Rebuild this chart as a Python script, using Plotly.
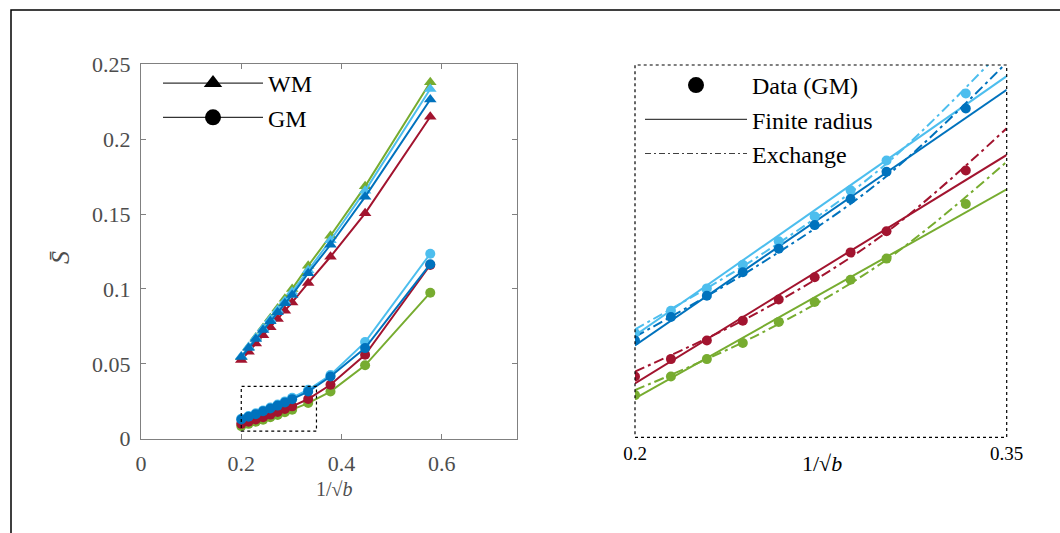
import plotly.graph_objects as go

# ---------------------------------------------------------------- data
# abscissa 1/sqrt(b)
inv_sqrt_b = [0.2, 0.2145, 0.229, 0.2435, 0.258, 0.2725, 0.287, 0.3015,
              0.3335, 0.378, 0.447, 0.577]

series_names = ["green", "red", "lightblue", "blue"]
series_colors = {"green": "#77AC30", "red": "#A2142F",
                 "lightblue": "#4DBEEE", "blue": "#0072BD"}

# mean signal S-bar, white matter (triangles)
wm_green = [0.0545, 0.0610, 0.0675, 0.0740, 0.0805, 0.0870, 0.0935, 0.1000,
            0.1155, 0.1355, 0.1685, 0.2380]
wm_red = [0.0525, 0.0580, 0.0635, 0.0690, 0.0745, 0.0800, 0.0855, 0.0910,
          0.1040, 0.1215, 0.1505, 0.2150]
wm_lightblue = [0.0550, 0.0612, 0.0674, 0.0736, 0.0798, 0.0860, 0.0920, 0.0980,
                0.1125, 0.1325, 0.1655, 0.2335]
wm_blue = [0.0545, 0.0605, 0.0665, 0.0725, 0.0785, 0.0845, 0.0905, 0.0960,
           0.1105, 0.1295, 0.1615, 0.2265]

# mean signal S-bar, grey matter (circles)
gm_green = [0.0084, 0.0099, 0.0113, 0.0126, 0.0143, 0.0159, 0.0177, 0.0194,
            0.0238, 0.0315, 0.0490, 0.0975]
gm_red = [0.0099, 0.0113, 0.0128, 0.0144, 0.0161, 0.0179, 0.0199, 0.0216,
          0.0265, 0.0360, 0.0560, 0.1160]
gm_lightblue = [0.0134, 0.0152, 0.0170, 0.0189, 0.0208, 0.0228, 0.0249, 0.0273,
                0.0327, 0.0425, 0.0645, 0.1235]
gm_blue = [0.0128, 0.0147, 0.0164, 0.0183, 0.0202, 0.0221, 0.0242, 0.0264,
           0.0315, 0.0415, 0.0605, 0.1165]

# model curves for GM, evaluated on the zoomed interval
fit_x = [0.2, 0.35]
finite_green = [0.00814, 0.02498]
finite_red = [0.00935, 0.02775]
finite_lightblue = [0.0132, 0.0341]
finite_blue = [0.0124, 0.0330]

exch_x = [0.2, 0.25, 0.3, 0.35]
exch_green = [0.0088, 0.0133, 0.0191, 0.0272]
exch_red = [0.0103, 0.0151, 0.0213, 0.0299]
exch_lightblue = [0.0137, 0.0196, 0.0268, 0.0366]
exch_blue = [0.0131, 0.0189, 0.0258, 0.0352]

# zoom window shown on the right
ZOOM_X = [0.2, 0.35]
ZOOM_Y = [0.005, 0.035]

x_ticks_left = [0, 0.2, 0.4, 0.6]
x_ticktext_left = ["0", "0.2", "0.4", "0.6"]
y_ticks_left = [0, 0.05, 0.1, 0.15, 0.2, 0.25]
y_ticktext_left = ["0", "0.05", "0.1", "0.15", "0.2", "0.25"]

wm = {"green": wm_green, "red": wm_red, "lightblue": wm_lightblue, "blue": wm_blue}
gm = {"green": gm_green, "red": gm_red, "lightblue": gm_lightblue, "blue": gm_blue}
finite = {"green": finite_green, "red": finite_red,
          "lightblue": finite_lightblue, "blue": finite_blue}
exch = {"green": exch_green, "red": exch_red,
        "lightblue": exch_lightblue, "blue": exch_blue}

# ---------------------------------------------------------------- figure
W, H = 1060, 533
SERIF = "Liberation Serif, Times New Roman, serif"
AXIS_GREY = "#808080"
TEXT_GREY = "#4d4d4d"
DASHDOT = "10px,4px,3px,4px"

fig = go.Figure()

# left panel: WM triangles and GM circles
for name in series_names:
    c = series_colors[name]
    fig.add_trace(go.Scatter(
        x=inv_sqrt_b, y=wm[name], mode="lines+markers", showlegend=False,
        line=dict(color=c, width=2),
        marker=dict(symbol="triangle-up", size=11, color=c),
        xaxis="x", yaxis="y"))
for name in series_names:
    c = series_colors[name]
    fig.add_trace(go.Scatter(
        x=inv_sqrt_b, y=gm[name], mode="lines+markers", showlegend=False,
        line=dict(color=c, width=2),
        marker=dict(symbol="circle", size=10, color=c),
        xaxis="x", yaxis="y"))

# right panel: GM data with the two model curves
for name in series_names:
    c = series_colors[name]
    fig.add_trace(go.Scatter(
        x=exch_x, y=exch[name], mode="lines", showlegend=False,
        line=dict(color=c, width=2, dash=DASHDOT, shape="spline"),
        xaxis="x2", yaxis="y2", cliponaxis=True))
    fig.add_trace(go.Scatter(
        x=fit_x, y=finite[name], mode="lines", showlegend=False,
        line=dict(color=c, width=2),
        xaxis="x2", yaxis="y2"))
for name in series_names:
    c = series_colors[name]
    fig.add_trace(go.Scatter(
        x=inv_sqrt_b, y=gm[name], mode="markers", showlegend=False,
        marker=dict(symbol="circle", size=10, color=c),
        xaxis="x2", yaxis="y2", cliponaxis=True))

# legend entries
fig.add_trace(go.Scatter(
    x=[None], y=[None], mode="lines+markers", name="WM", legend="legend",
    line=dict(color="black", width=1),
    marker=dict(symbol="triangle-up", size=16, color="black"),
    xaxis="x", yaxis="y"))
fig.add_trace(go.Scatter(
    x=[None], y=[None], mode="lines+markers", name="GM", legend="legend",
    line=dict(color="black", width=1),
    marker=dict(symbol="circle", size=16, color="black"),
    xaxis="x", yaxis="y"))
fig.add_trace(go.Scatter(
    x=[None], y=[None], mode="markers", name="Data (GM)", legend="legend2",
    marker=dict(symbol="circle", size=16, color="black"),
    xaxis="x2", yaxis="y2"))
fig.add_trace(go.Scatter(
    x=[None], y=[None], mode="lines", name="Finite radius", legend="legend2",
    line=dict(color="#404040", width=1.2),
    xaxis="x2", yaxis="y2"))
fig.add_trace(go.Scatter(
    x=[None], y=[None], mode="lines", name="Exchange", legend="legend2",
    line=dict(color="#404040", width=1.2, dash="6px,3px,2px,3px"),
    xaxis="x2", yaxis="y2"))


def px_x(p):
    return p / W


def px_y(p):
    return (H - p) / H


left_axis = dict(showline=True, linecolor=AXIS_GREY, linewidth=1,
                 mirror="ticks", ticks="inside", ticklen=5,
                 tickcolor=AXIS_GREY, showgrid=False, zeroline=False,
                 automargin=False,
                 tickfont=dict(family=SERIF, size=22, color=TEXT_GREY))

fig.update_layout(
    width=W, height=H,
    margin=dict(l=0, r=0, t=0, b=0, pad=0),
    paper_bgcolor="white", plot_bgcolor="white",
    xaxis=dict(domain=[px_x(141), px_x(517)], range=[0, 0.75],
               tickvals=x_ticks_left, ticktext=x_ticktext_left,
               ticklabelstandoff=5, anchor="y", **left_axis),
    yaxis=dict(domain=[px_y(438.7), px_y(64.3)], range=[0, 0.25],
               tickvals=y_ticks_left, ticktext=y_ticktext_left,
               ticklabelstandoff=5, anchor="x", **left_axis),
    xaxis2=dict(domain=[px_x(635), px_x(1006.7)],
                range=[ZOOM_X[0] - 1e-9, ZOOM_X[1] + 1e-9],
                tickvals=ZOOM_X, ticktext=["0.2", "0.35"],
                ticks="", showline=False, showgrid=False, zeroline=False,
                automargin=False, ticklabelstandoff=3,
                tickfont=dict(family=SERIF, size=19, color="black"),
                anchor="y2"),
    yaxis2=dict(domain=[px_y(437.3), px_y(65)], range=ZOOM_Y,
                showticklabels=False, ticks="", showline=False,
                showgrid=False, zeroline=False, automargin=False,
                anchor="x2"),
    legend=dict(x=px_x(158), y=px_y(61), xanchor="left", yanchor="top",
                bgcolor="rgba(0,0,0,0)", borderwidth=0,
                font=dict(family=SERIF, size=24, color="black"),
                itemwidth=100, tracegroupgap=6),
    legend2=dict(x=px_x(640), y=px_y(63), xanchor="left", yanchor="top",
                 bgcolor="rgba(0,0,0,0)", borderwidth=0,
                 font=dict(family=SERIF, size=24, color="black"),
                 itemwidth=102),
    showlegend=True,
)

# dotted zoom box in the left panel and dotted frame of the right panel
fig.add_shape(type="rect", xref="x", yref="y",
              x0=ZOOM_X[0], x1=ZOOM_X[1], y0=ZOOM_Y[0], y1=ZOOM_Y[1],
              line=dict(color="black", width=1.2, dash="dot"))
fig.add_shape(type="rect", xref="x2 domain", yref="y2 domain",
              x0=0, x1=1, y0=0, y1=1,
              line=dict(color="black", width=1.2, dash="dot"))

# outer frame
fig.add_shape(type="rect", xref="paper", yref="paper",
              x0=px_x(11), x1=1.05, y0=-0.05, y1=px_y(10),
              line=dict(color="black", width=1.5))

# axis labels
label_kw = dict(xref="paper", yref="paper", showarrow=False,
                xanchor="center", yanchor="middle")
fig.add_annotation(x=px_x(334), y=px_y(489), text="1/√<i>b</i>",
                   font=dict(family=SERIF, size=20, color=TEXT_GREY),
                   **label_kw)
fig.add_annotation(x=px_x(822), y=px_y(463), text="1/√<i>b</i>",
                   font=dict(family=SERIF, size=22, color="black"),
                   **label_kw)
fig.add_annotation(x=px_x(60), y=px_y(258), text="<i>S̄</i>", textangle=-90,
                   font=dict(family=SERIF, size=26, color=TEXT_GREY),
                   **label_kw)

fig.write_html("out.html")
